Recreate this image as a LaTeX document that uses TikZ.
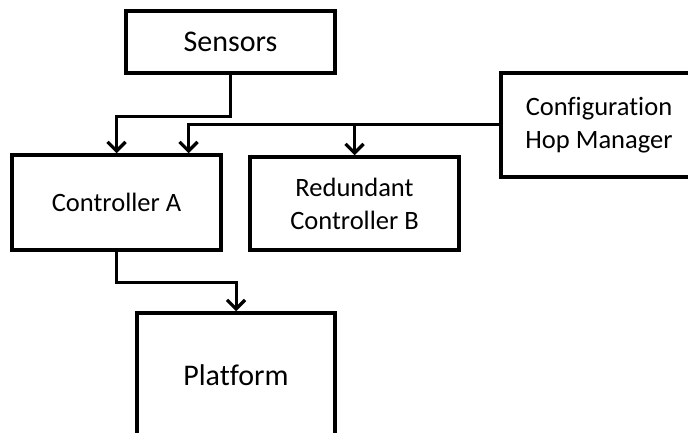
\documentclass[tikz,border=0pt]{standalone}
\usepackage{fontspec}
\setmainfont{Carlito}[Ligatures={NoCommon}]
\usetikzlibrary{arrows.meta}
\begin{document}
\begin{tikzpicture}[x=1pt,y=-1pt,
  box/.style={draw,line width=3.5pt,align=center,inner sep=0pt,
    font=\fontsize{26.5}{33}\selectfont},
  conn/.style={line width=3pt,-{Straight Barb[length=9pt,width=18pt,line width=3.2pt]}}]
\clip (0,0) rectangle (688,433);
\useasboundingbox (0,0) rectangle (688,433);
\node[box,minimum width=209,minimum height=62,font=\fontsize{30}{36}\selectfont] (sens) at (230.5,42) {Sensors};
\node[box,minimum width=209,minimum height=95] (ctrlA) at (116.5,202.5) {Controller A};
\node[box,minimum width=209,minimum height=93] (redB) at (354.5,203.5) {Redundant\\Controller B};
\node[box,minimum width=196,minimum height=104] (cfg) at (599,125) {Configuration\\Hop Manager};
\node[box,minimum width=198,minimum height=124,font=\fontsize{30}{36}\selectfont] (plat) at (236,375) {Platform};
\draw[conn] (sens.south) -- ++(0,42) -| (ctrlA.north);
\draw[conn] (cfg.west) -| ([xshift=72]ctrlA.north);
\draw[conn] (redB.north |- cfg.west) -- (redB.north);
\draw[conn] (ctrlA.south) -- ++(0,31) -| (plat.north);
\end{tikzpicture}
\end{document}
